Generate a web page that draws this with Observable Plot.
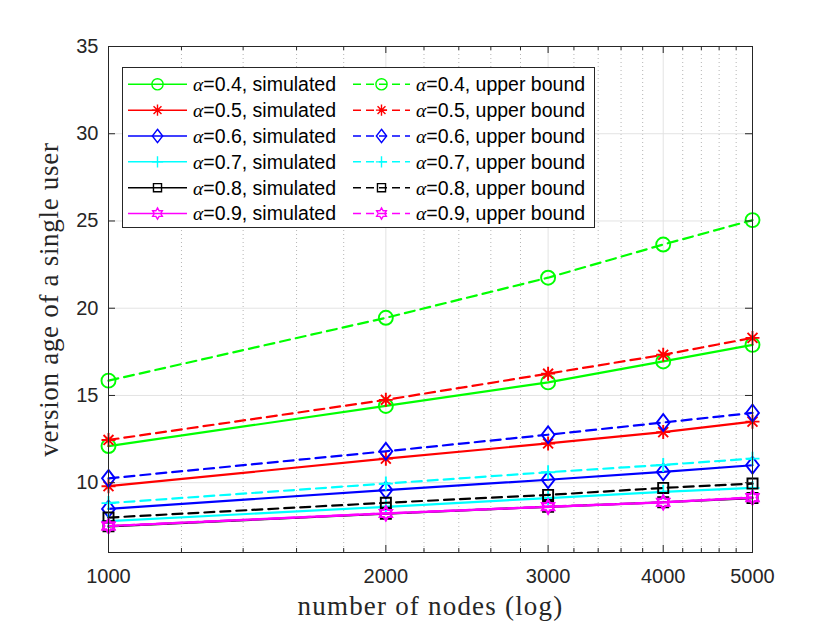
<!DOCTYPE html>
<html>
<head>
<meta charset="utf-8">
<script src="https://cdn.jsdelivr.net/npm/d3@7"></script>
<script src="https://cdn.jsdelivr.net/npm/@observablehq/plot@0.6"></script>
<style>
  html, body { margin: 0; padding: 0; background: #fff; }
  #chart { width: 830px; height: 623px; }
</style>
</head>
<body>
<div id="chart"></div>
<script>
// ---------- data ----------
const nodes = [1000, 2000, 3000, 4000, 5000];
const xTicks = [1000, 2000, 3000, 4000, 5000];
const xMinorTicks = [1200, 1400, 1600, 1800, 2200, 2400, 2600, 2800, 3200, 3400, 3600, 3800, 4200, 4400, 4600, 4800];
const yTicks = [10, 15, 20, 25, 30, 35];

const alphas = ["0.4", "0.5", "0.6", "0.7", "0.8", "0.9"];
const sim04 = [12.1, 14.4, 15.75, 16.95, 17.9];
const ub04  = [15.85, 19.45, 21.75, 23.65, 25.05];
const sim05 = [9.8, 11.38, 12.25, 12.9, 13.5];
const ub05  = [12.45, 14.75, 16.25, 17.33, 18.3];
const sim06 = [8.5, 9.58, 10.17, 10.62, 11.0];
const ub06  = [10.25, 11.8, 12.75, 13.45, 14.0];
const sim07 = [7.8, 8.62, 9.12, 9.48, 9.7];
const ub07  = [8.83, 9.95, 10.6, 11.02, 11.38];
const sim08 = [7.5, 8.22, 8.62, 8.88, 9.12];
const ub08  = [8.0, 8.85, 9.3, 9.7, 9.95];
const sim09 = [7.52, 8.24, 8.62, 8.87, 9.14];
const ub09  = [7.52, 8.24, 8.63, 8.88, 9.16];

const colors = ["#00ff00", "#ff0000", "#0000ff", "#00ffff", "#000000", "#ff00ff"];
const simSeries = [sim04, sim05, sim06, sim07, sim08, sim09];
const ubSeries = [ub04, ub05, ub06, ub07, ub08, ub09];

// ---------- custom MATLAB-like markers ----------
function sym(fn) {
  return { draw(ctx, size) { const R = Math.sqrt(size / Math.PI); fn(ctx, R); } };
}
const mCircle = sym((c, R) => { c.moveTo(R, 0); c.arc(0, 0, R, 0, 2 * Math.PI); });
const mAsterisk = sym((c, R) => {
  for (let k = 0; k < 4; k++) {
    const a = k * Math.PI / 4, dx = R * Math.cos(a), dy = R * Math.sin(a);
    c.moveTo(dx, dy); c.lineTo(-dx, -dy);
  }
});
const mDiamond = sym((c, R) => {
  c.moveTo(0, -1.2 * R); c.lineTo(0.92 * R, 0); c.lineTo(0, 1.2 * R); c.lineTo(-0.92 * R, 0); c.closePath();
});
const mPlus = sym((c, R) => { c.moveTo(-R, 0); c.lineTo(R, 0); c.moveTo(0, -R); c.lineTo(0, R); });
const mSquare = sym((c, R) => { const s = 0.72 * R; c.moveTo(-s, -s); c.lineTo(s, -s); c.lineTo(s, s); c.lineTo(-s, s); c.closePath(); });
const mHexagram = sym((c, R) => {
  const ri = R / Math.sqrt(3);
  for (let k = 0; k < 12; k++) {
    const a = -Math.PI / 2 + k * Math.PI / 6, r = k % 2 === 0 ? R : ri;
    const px = r * Math.cos(a), py = r * Math.sin(a);
    if (k === 0) c.moveTo(px, py); else c.lineTo(px, py);
  }
  c.closePath();
});
const symbols = [mCircle, mAsterisk, mDiamond, mPlus, mSquare, mHexagram];

// ---------- build series (drawing order like MATLAB legend order) ----------
const series = [];
alphas.forEach((a, i) => {
  series.push({ label: `=${a}, simulated`, values: simSeries[i], color: colors[i], symbol: symbols[i], dash: null });
  series.push({ label: `=${a}, upper bound`, values: ubSeries[i], color: colors[i], symbol: symbols[i], dash: "10,6" });
});

const W = 830, H = 623, mL = 108, mR = 78, mT = 46, mB = 71;
const innerW = W - mL - mR, innerH = H - mT - mB;

const seriesMarks = series.flatMap(s => {
  const rows = nodes.map((n, j) => ({ n, v: s.values[j] }));
  return [
    Plot.line(rows, { x: "n", y: "v", stroke: s.color, strokeWidth: 2.2, strokeDasharray: s.dash || undefined }),
    Plot.dot(rows, { x: "n", y: "v", stroke: s.color, fill: "none", strokeWidth: 1.9, r: 7, symbol: s.symbol })
  ];
});

const axisColor = "#262626";
const serif = "'Liberation Serif', 'Times New Roman', serif";

const chart = Plot.plot({
  width: W, height: H,
  marginLeft: mL, marginRight: mR, marginTop: mT, marginBottom: mB,
  x: { type: "log", domain: [1000, 5000], label: null },
  y: { domain: [6, 35], label: null },
  style: { fontFamily: "'Liberation Sans', Arial, sans-serif", fontSize: "20px", color: axisColor, background: "#fff" },
  marks: [
    Plot.ruleX(xMinorTicks, { stroke: "#b5b5b5", strokeDasharray: "1,3", strokeWidth: 1 }),
    Plot.ruleX(xTicks, { stroke: "#e3e3e3", strokeWidth: 1 }),
    Plot.ruleY(yTicks, { stroke: "#e3e3e3", strokeWidth: 1 }),
    ...seriesMarks,
    // inward ticks on all four sides
    Plot.ruleX(xTicks, { stroke: axisColor, insetTop: innerH - 7 }),
    Plot.ruleX(xTicks, { stroke: axisColor, insetBottom: innerH - 7 }),
    Plot.ruleX(xMinorTicks, { stroke: axisColor, insetTop: innerH - 4 }),
    Plot.ruleX(xMinorTicks, { stroke: axisColor, insetBottom: innerH - 4 }),
    Plot.ruleY(yTicks, { stroke: axisColor, insetRight: innerW - 7 }),
    Plot.ruleY(yTicks, { stroke: axisColor, insetLeft: innerW - 7 }),
    Plot.frame({ stroke: axisColor, strokeWidth: 1 }),
    Plot.axisX(xTicks, { tickSize: 0, tickPadding: 16, fontSize: 20, tickFormat: d3.format("d"), label: null }),
    Plot.axisY(yTicks, { tickSize: 0, tickPadding: 10, fontSize: 20, label: null }),
    Plot.text(["number of nodes (log)"], { frameAnchor: "bottom", lineAnchor: "middle", textAnchor: "middle", dy: 54, fontSize: 27, fontFamily: serif, fill: axisColor }),
    Plot.text(["version age of a single user"], { frameAnchor: "left", lineAnchor: "middle", textAnchor: "middle", dx: -59, rotate: -90, fontSize: 27, fontFamily: serif, fill: axisColor })
  ]
});

document.getElementById("chart").appendChild(chart);

// letter spacing for the serif axis labels (mimic Computer Modern width)
d3.select(chart).selectAll("text").each(function () {
  const t = this.textContent;
  if (t === "number of nodes (log)") d3.select(this).style("letter-spacing", "1.2px");
  if (t === "version age of a single user") d3.select(this).style("letter-spacing", "0.7px");
});

// ---------- legend ----------
const svg = d3.select(chart);
const lg = svg.append("g").attr("class", "legend").attr("text-anchor", "start");
lg.append("rect").attr("x", 122.5).attr("y", 67.5).attr("width", 472).attr("height", 160)
  .attr("fill", "#fff").attr("stroke", axisColor).attr("stroke-width", 1);
const rowY0 = 84.3, rowStep = 25.85;
const cols = [
  { x1: 128, x2: 187, mx: 157.5, tx: 193 },
  { x1: 353, x2: 410, mx: 381.5, tx: 416 }
];
series.forEach((s, k) => {
  const row = Math.floor(k / 2), col = cols[k % 2];
  const y = rowY0 + row * rowStep;
  lg.append("line").attr("x1", col.x1).attr("x2", col.x2).attr("y1", y).attr("y2", y)
    .attr("stroke", s.color).attr("stroke-width", 1.5).attr("stroke-dasharray", s.dash ? "8,5" : null);
  lg.append("path").attr("d", d3.symbol(s.symbol, Math.PI * 5.6 * 5.6)())
    .attr("transform", `translate(${col.mx},${y})`)
    .attr("fill", "none").attr("stroke", s.color).attr("stroke-width", 1.4);
  const t = lg.append("text").attr("x", col.tx).attr("y", y).attr("dy", "0.35em")
    .attr("text-anchor", "start")
    .attr("font-size", 19.5).attr("fill", "#000")
    .attr("font-family", "'Liberation Sans', Arial, sans-serif");
  t.append("tspan").attr("font-family", serif).attr("font-style", "italic").text("α");
  t.append("tspan").text(s.label);
});
</script>
</body>
</html>
